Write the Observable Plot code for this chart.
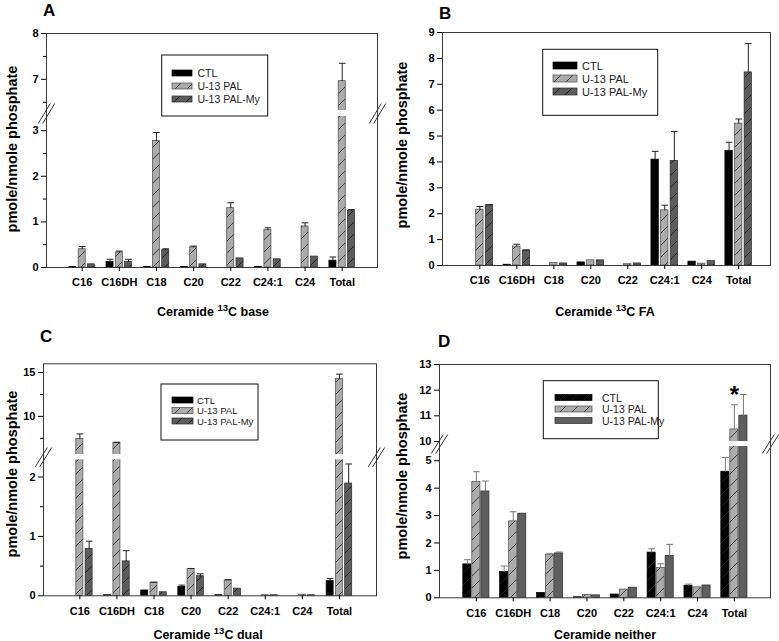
<!DOCTYPE html>
<html>
<head>
<meta charset="utf-8">
<script src="https://cdn.jsdelivr.net/npm/d3@7"></script>
<script src="https://cdn.jsdelivr.net/npm/@observablehq/plot@0.6"></script>
<style>
html,body{margin:0;padding:0;background:#fff;}
#root{position:relative;width:779px;height:641px;overflow:hidden;background:#fff;font-family:"Liberation Sans",Arial,sans-serif;}
.panel{position:absolute;}
#overlay{position:absolute;left:0;top:0;pointer-events:none;}
</style>
</head>
<body>
<svg width="0" height="0" style="position:absolute">
  <defs>
    <pattern id="hatchLight" patternUnits="userSpaceOnUse" width="12" height="12">
      <rect width="12" height="12" fill="#ababab"/>
      <path d="M-1,13L13,-1M-3,3L3,-3M9,15L15,9" stroke="#333" stroke-width="0.9"/>
    </pattern>
    <pattern id="hatchDark" patternUnits="userSpaceOnUse" width="12" height="12">
      <rect width="12" height="12" fill="#5c5c5c"/>
      <path d="M-1,13L13,-1M-3,3L3,-3M9,15L15,9" stroke="#1a1a1a" stroke-width="0.9"/>
    </pattern>
    <pattern id="hatchBlack" patternUnits="userSpaceOnUse" width="12" height="12">
      <rect width="12" height="12" fill="#000"/>
      <path d="M-1,13L13,-1M-3,3L3,-3M9,15L15,9" stroke="#222" stroke-width="0.9"/>
    </pattern>
  </defs>
</svg>
<div id="root"></div>
<script>
// ---------------- data ----------------
const cats = ["C16", "C16DH", "C18", "C20", "C22", "C24:1", "C24", "Total"];
const seriesNames = ["CTL", "U-13 PAL", "U-13 PAL-My"];

// Panel A: Ceramide 13C base
const ctlA = [0.01, 0.12, 0.01, 0.01, 0, 0.01, 0, 0.15];
const ctlAErr = [0, 0.06, 0, 0, 0, 0, 0, 0.08];
const palA = [0.40, 0.33, 2.77, 0.44, 1.30, 0.82, 0.90, 6.96];
const palAErr = [0.06, 0.03, 0.19, 0.03, 0.12, 0.05, 0.08, 0.39];
const myA = [0.07, 0.12, 0.38, 0.07, 0.20, 0.18, 0.24, 1.24];
const myAErr = [0, 0.06, 0.03, 0, 0, 0, 0, 0.03];

// Panel B: Ceramide 13C FA
const ctlB = [0, 0.03, 0, 0.12, 0, 4.09, 0.15, 4.43];
const ctlBErr = [0, 0, 0, 0, 0, 0.32, 0, 0.33];
const palB = [2.16, 0.73, 0.10, 0.20, 0.05, 2.13, 0.07, 5.48];
const palBErr = [0.12, 0.09, 0, 0, 0, 0.20, 0, 0.18];
const myB = [2.33, 0.58, 0.08, 0.20, 0.08, 4.04, 0.17, 7.46];
const myBErr = [0.02, 0.02, 0, 0, 0, 1.14, 0, 1.11];

// Panel C: Ceramide 13C dual
const ctlC = [0, 0.01, 0.09, 0.15, 0.01, 0, 0, 0.25];
const ctlCErr = [0, 0, 0, 0.03, 0, 0, 0, 0.04];
const palC = [7.43, 6.98, 0.22, 0.45, 0.26, 0.01, 0.02, 14.25];
const palCErr = [0.57, 0.07, 0.01, 0.01, 0.01, 0, 0, 0.57];
const myC = [0.79, 0.58, 0.06, 0.33, 0.12, 0.01, 0.01, 1.89];
const myCErr = [0.13, 0.18, 0, 0.04, 0, 0, 0, 0.33];

// Panel D: Ceramide neither
const ctlD = [1.22, 0.94, 0.18, 0.02, 0.12, 1.65, 0.44, 4.60];
const ctlDErr = [0.17, 0.22, 0, 0, 0, 0.14, 0.06, 0.52];
const palD = [4.22, 2.79, 1.58, 0.10, 0.30, 1.09, 0.38, 10.47];
const palDErr = [0.38, 0.35, 0.02, 0, 0, 0.15, 0, 0.96];
const myD = [3.88, 3.07, 1.62, 0.09, 0.37, 1.53, 0.45, 11.01];
const myDErr = [0.38, 0, 0.05, 0, 0, 0.42, 0, 0.82];

// tick values
const ticksA = [0, 1, 2, 3, 7, 8], minorA = [0.5, 1.5, 2.5, 6.5, 7.5];
const ticksB = [0, 1, 2, 3, 4, 5, 6, 7, 8, 9], minorB = [];
const ticksC = [0, 1, 2, 10, 15], minorC = [0.5, 1.5, 7.5, 12.5];
const ticksD = [0, 1, 2, 3, 4, 5, 10, 11, 12, 13], minorD = [];

// ---------------- layout ----------------
const fillsABC = ["#000", "url(#hatchLight)", "url(#hatchDark)"];
const fillsD = ["url(#hatchBlack)", "url(#hatchLight)", "#5f5f5f"];
const strokes = ["#000", "#4a4a4a", "#2a2a2a"];

const panels = [
  {left: 0, top: 0, width: 390, height: 310, ml: 46, mr: 13,
   xDomain: [0.04, 8.95], yDomain: [0, 3.31, 6.32, 8], yRange: [267, 116, 110, 33],
   ticks: ticksA, minor: minorA, fills: fillsABC, err: "#222", pitch: 0.25, bw: 0.19,
   series: [[ctlA, ctlAErr], [palA, palAErr], [myA, myAErr]]},
  {left: 390, top: 0, width: 389, height: 310, ml: 52, mr: 9,
   xDomain: [-0.01, 8.86], yDomain: [0, 9], yRange: [265, 32],
   ticks: ticksB, minor: minorB, fills: fillsABC, err: "#222", pitch: 0.26, bw: 0.2,
   series: [[ctlB, ctlBErr], [palB, palBErr], [myB, myBErr]]},
  {left: 0, top: 310, width: 390, height: 331, ml: 43, mr: 14,
   xDomain: [0.02, 9.0], yDomain: [0, 2.29, 5.65, 16], yRange: [285.3, 149.3, 144, 53.3],
   ticks: ticksC, minor: minorC, fills: fillsABC, err: "#222", pitch: 0.25, bw: 0.19,
   series: [[ctlC, ctlCErr], [palC, palCErr], [myC, myCErr]]},
  {left: 390, top: 310, width: 389, height: 331, ml: 49, mr: 9,
   xDomain: [0.0, 8.98], yDomain: [0, 5.52, 10, 13], yRange: [287.3, 136, 131, 54],
   ticks: ticksD, minor: minorD, fills: fillsD, err: "#777", pitch: 0.245, bw: 0.22,
   series: [[ctlD, ctlDErr], [palD, palDErr], [myD, myDErr]], star: true}
];

const root = document.getElementById("root");

function drawPanel(p) {
  const marks = [];
  const offs = [-1, 0, 1];
  const cap = 0.09;
  p.series.forEach(([vals, errs], k) => {
    const rows = cats.map((c, i) => ({i, v: vals[i], e: errs[i]}));
    const xc = d => d.i + 1 + offs[k] * p.pitch;
    marks.push(Plot.rect(rows.filter(d => d.v > 0), {
      x1: d => xc(d) - p.bw / 2, x2: d => xc(d) + p.bw / 2,
      y1: () => 0, y2: d => d.v,
      fill: p.fills[k], stroke: strokes[k], strokeWidth: 0.7
    }));
    const er = rows.filter(d => d.e > 0);
    marks.push(Plot.link(er, {x1: xc, x2: xc, y1: d => d.v, y2: d => d.v + d.e, stroke: p.err, strokeWidth: 1}));
    marks.push(Plot.link(er, {x1: d => xc(d) - cap, x2: d => xc(d) + cap, y1: d => d.v + d.e, y2: d => d.v + d.e, stroke: p.err, strokeWidth: 1}));
  });
  const broken = p.yDomain.length === 4;
  if (broken) {
    const [, lo, hi] = p.yDomain;
    marks.push(Plot.rect([0], {x1: () => p.xDomain[0], x2: () => p.xDomain[1], y1: () => lo, y2: () => hi, fill: "white"}));
  }
  marks.push(Plot.frame({stroke: "#3a3a3a", strokeWidth: 1}));
  if (broken) {
    const [, lo, hi] = p.yDomain;
    const r = p.yRange;
    const dLo = 7 / ((r[0] - r[1]) / (p.yDomain[1] - p.yDomain[0]));
    const dHi = 7 / ((r[2] - r[3]) / (p.yDomain[3] - p.yDomain[2]));
    const xUnit = (p.width - p.ml - p.mr) / (p.xDomain[1] - p.xDomain[0]);
    const hx = 6 / xUnit;
    const ends = [p.xDomain[0], p.xDomain[1]];
    [-2.2, 2.2].forEach(off => {
      marks.push(Plot.link(ends, {
        x1: d => d - hx, x2: d => d + hx, y1: () => lo - dLo, y2: () => hi + dHi,
        dx: off, stroke: "#333", strokeWidth: 1
      }));
    });
  }
  marks.push(Plot.axisY({ticks: p.ticks, tickSize: 5, tickPadding: 3, tickFormat: d => String(d), label: null, fontSize: 11, fontWeight: "bold"}));
  if (p.minor.length) marks.push(Plot.axisY({ticks: p.minor, tickSize: 3, tickFormat: () => "", label: null}));
  marks.push(Plot.axisX({ticks: [1, 2, 3, 4, 5, 6, 7, 8], tickSize: 4, tickPadding: 7, tickFormat: i => cats[i - 1], label: null, fontSize: 11, fontWeight: "bold"}));
  if (p.star) {
    const starRow = [{v: palD[7] + palDErr[7]}];
    marks.push(Plot.text(starRow, {x: () => 8, y: d => d.v, text: () => "*", fontSize: 24, fontWeight: "bold", lineAnchor: "middle", dy: -9, fill: "#000"}));
  }
  const chart = Plot.plot({
    width: p.width, height: p.height,
    marginLeft: p.ml, marginRight: p.mr,
    marginTop: Math.min(...p.yRange), marginBottom: p.height - Math.max(...p.yRange),
    x: {type: "linear", domain: p.xDomain},
    y: {type: "linear", domain: p.yDomain, range: p.yRange},
    style: {fontFamily: "'Liberation Sans', Arial, sans-serif", fontSize: "11px", fontWeight: "bold", color: "#000", background: "transparent", overflow: "visible"},
    marks
  });
  chart.classList.add("panel");
  chart.style.left = p.left + "px";
  chart.style.top = p.top + "px";
  chart.style.position = "absolute";
  root.appendChild(chart);
}
panels.forEach(drawPanel);

// ---------------- overlay texts & legends ----------------
const svg = d3.select(root).append("svg").attr("id", "overlay").attr("width", 779).attr("height", 641)
  .style("font-family", "'Liberation Sans', Arial, sans-serif");

const letters = [["A", 43, 16], ["B", 439, 18.5], ["C", 40, 342], ["D", 438, 347]];
letters.forEach(([t, x, y]) => svg.append("text").attr("x", x).attr("y", y).attr("font-size", 17).attr("font-weight", "bold").text(t));

const yTitles = [[11.5, 149], [402, 145], [12, 474], [402, 476]];
yTitles.forEach(([x, y]) => svg.append("text")
  .attr("transform", `translate(${x},${y}) rotate(-90)`)
  .attr("text-anchor", "middle").attr("dominant-baseline", "central")
  .attr("font-size", 14.5).attr("font-weight", "bold").text("pmole/nmole phosphate"));

const xTitles = [
  {x: 213, y: 316, parts: ["Ceramide ", "13", "C base"]},
  {x: 605, y: 316, parts: ["Ceramide ", "13", "C FA"]},
  {x: 208, y: 639, parts: ["Ceramide ", "13", "C dual"]},
  {x: 605, y: 639, parts: ["Ceramide neither"]}
];
xTitles.forEach(t => {
  const tx = svg.append("text").attr("x", t.x).attr("y", t.y).attr("text-anchor", "middle")
    .attr("font-size", 12.5).attr("font-weight", "bold");
  if (t.parts.length === 1) { tx.text(t.parts[0]); return; }
  tx.append("tspan").text(t.parts[0]);
  tx.append("tspan").attr("font-size", 9.5).attr("dy", -5).text(t.parts[1]);
  tx.append("tspan").attr("dy", 5).text(t.parts[2]);
});

const legends = [
  {box: [161.7, 55, 106, 61], sx: 172, sw: 20, sh: 6, tx: 197.5, ys: [73, 86, 99], fs: 10.5, fills: fillsABC},
  {box: [542.7, 49.3, 115, 66], sx: 553, sw: 24, sh: 7, tx: 582, ys: [65.5, 78.5, 91.5], fs: 11, fills: fillsABC},
  {box: [161, 384, 97, 56], sx: 172, sw: 21, sh: 6, tx: 197, ys: [400, 410.5, 421], fs: 9.5, fills: fillsABC},
  {box: [543.3, 380.7, 115, 58], sx: 555, sw: 37, sh: 6, tx: 602, ys: [397.5, 409, 420.5], fs: 10.5, fills: fillsD}
];
legends.forEach(L => {
  const [bx, by, bw, bh] = L.box;
  svg.append("rect").attr("x", bx).attr("y", by).attr("width", bw).attr("height", bh)
    .attr("fill", "#fff").attr("stroke", "#111").attr("stroke-width", 1);
  seriesNames.forEach((name, k) => {
    svg.append("rect").attr("x", L.sx).attr("y", L.ys[k] - L.sh / 2).attr("width", L.sw).attr("height", L.sh)
      .attr("fill", L.fills[k]).attr("stroke", strokes[k]).attr("stroke-width", 0.7);
    svg.append("text").attr("x", L.tx).attr("y", L.ys[k]).attr("dominant-baseline", "central")
      .attr("font-size", L.fs).attr("fill", "#222").text(name);
  });
});
</script>
</body>
</html>
